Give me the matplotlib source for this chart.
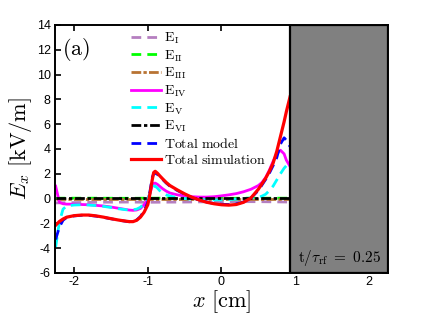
import numpy as np
import matplotlib
matplotlib.use("Agg")
import matplotlib.pyplot as plt

plt.rcParams["mathtext.fontset"] = "cm"
plt.rcParams["axes.unicode_minus"] = False
plt.rcParams["font.family"] = "Liberation Sans"

########################## Data ##########################

x_fine = [-2.25, -2.2, -2.15, -2.1, -2.0, -1.9, -1.8, -1.7, -1.6, -1.5, -1.4, -1.3,
          -1.25, -1.2, -1.15, -1.1, -1.05, -1.0, -0.97, -0.94, -0.92, -0.9, -0.87,
          -0.84, -0.8, -0.75, -0.7, -0.6, -0.5, -0.4, -0.3, -0.2, -0.1, 0.0, 0.1,
          0.2, 0.3, 0.4, 0.5, 0.55, 0.6, 0.65, 0.7, 0.75, 0.8, 0.85, 0.88, 0.93]
x_coarse = [-2.25, -1.75, -1.25, -1.0, -0.5, 0.0, 0.5, 0.93]

E_I = [-0.35, -0.3, -0.28, -0.3, -0.28, -0.25, -0.25, -0.28]
E_II = [0.03, 0.03, 0.02, 0.03, 0.03, 0.02, 0.03, 0.03]
E_III = [0.0, 0.0, 0.0, 0.0, 0.0, 0.0, 0.0, 0.0]
E_VI = [0.05, 0.05, 0.05, 0.05, 0.05, 0.05, 0.05, 0.05]

E_IV = [1.0, -0.3, -0.42, -0.45, -0.45, -0.48, -0.5, -0.55, -0.6, -0.68, -0.78, -0.88,
        -0.93, -0.95, -0.92, -0.8, -0.5, -0.05, 0.45, 1.0, 1.22, 1.25, 1.15,
        1.0, 0.8, 0.6, 0.45, 0.3, 0.2, 0.15, 0.12, 0.12, 0.15, 0.22, 0.3,
        0.4, 0.55, 0.75, 1.05, 1.3, 1.7, 2.3, 3.0, 3.6, 3.9, 3.6, 3.1, 2.6]
E_V = [-3.9, -1.9, -0.85, -0.6, -0.52, -0.5, -0.52, -0.57, -0.63, -0.72, -0.82, -0.9,
       -0.92, -0.9, -0.85, -0.7, -0.4, 0.0, 0.4, 0.85, 1.0, 1.0, 0.85,
       0.65, 0.45, 0.3, 0.2, 0.08, 0.0, -0.05, -0.08, -0.1, -0.1, -0.1, -0.08,
       -0.05, 0.0, 0.05, 0.1, 0.2, 0.35, 0.65, 1.0, 1.5, 2.0, 2.45, 2.65, 2.8]
total_model = [-3.3, -2.3, -1.75, -1.52, -1.4, -1.35, -1.35, -1.42, -1.52, -1.63, -1.74, -1.83,
               -1.87, -1.86, -1.72, -1.45, -1.0, -0.3, 0.6, 1.7, 2.0, 2.05, 1.95,
               1.8, 1.55, 1.25, 1.0, 0.65, 0.35, 0.08, -0.12, -0.28, -0.4, -0.46, -0.48,
               -0.43, -0.27, 0.05, 0.65, 1.1, 1.55, 2.05, 2.65, 3.3, 4.4, 4.9, 4.7, 4.2]
total_sim = [-2.15, -1.85, -1.65, -1.5, -1.38, -1.33, -1.33, -1.4, -1.5, -1.62, -1.73, -1.82,
             -1.86, -1.86, -1.75, -1.5, -1.1, -0.5, 0.4, 1.5, 2.1, 2.2, 2.05,
             1.85, 1.6, 1.3, 1.05, 0.7, 0.38, 0.1, -0.12, -0.3, -0.42, -0.5, -0.53,
             -0.48, -0.3, 0.05, 0.75, 1.2, 1.65, 2.2, 2.85, 3.8, 5.0, 6.2, 7.0, 8.2]

labels = [r"$\mathrm{E}_{\mathrm{I}}$", r"$\mathrm{E}_{\mathrm{II}}$",
          r"$\mathrm{E}_{\mathrm{III}}$", r"$\mathrm{E}_{\mathrm{IV}}$",
          r"$\mathrm{E}_{\mathrm{V}}$", r"$\mathrm{E}_{\mathrm{VI}}$",
          r"$\mathrm{Total\ model}$", r"$\mathrm{Total\ simulation}$"]

x_ticks = [-2, -1, 0, 1, 2]
y_ticks = [-6, -4, -2, 0, 2, 4, 6, 8, 10, 12, 14]
wall_x = 0.93

########################## Plot ##########################

fig = plt.figure(figsize=(4.36, 3.2), dpi=100)
ax = fig.add_axes([0.126, 0.147, 0.764, 0.775])

lw = 2.0
ax.plot(x_coarse, E_I, color="#b57fc0", lw=lw, dashes=(3.5, 2.2), label=labels[0])
ax.plot(x_coarse, E_II, color="#00ff00", lw=lw, dashes=(3.5, 2.2), label=labels[1])
ax.plot(x_coarse, E_III, color="#b87333", lw=lw, dashes=(3.5, 0.8, 1.2, 0.8), label=labels[2])
ax.plot(x_fine, E_IV, color="#ff00ff", lw=lw, ls="-", label=labels[3])
ax.plot(x_fine, E_V, color="#00ffff", lw=lw, dashes=(3.5, 2.2), label=labels[4])
ax.plot(x_coarse, E_VI, color="black", lw=lw, dashes=(3.5, 1.0, 1.2, 1.0), label=labels[5])
ax.plot(x_fine, total_model, color="#0000ff", lw=lw, dashes=(3.5, 2.2), label=labels[6])
ax.plot(x_fine, total_sim, color="#ff0000", lw=2.3, ls="-", label=labels[7])

ax.axvspan(wall_x, 2.26, facecolor="#808080", edgecolor="black", lw=1.6, zorder=5)

ax.set_xlim(-2.26, 2.26)
ax.set_ylim(-6, 14)
ax.set_xticks(x_ticks)
ax.set_yticks(y_ticks)
ax.tick_params(direction="in", top=True, right=True, length=4, width=1.2,
               labelsize=9)
ax.tick_params(axis="x", pad=2.5)
ax.tick_params(axis="y", pad=3)
for s in ax.spines.values():
    s.set_linewidth(1.4)

ax.set_xlabel(r"$x\ [\mathrm{cm}]$", fontsize=16, labelpad=0)
ax.set_ylabel(r"$E_x\ [\mathrm{kV/m}]$", fontsize=16, labelpad=2)

ax.text(0.02, 0.9, r"$(\mathrm{a})$", transform=ax.transAxes, fontsize=16,
        ha="left", va="center")
ax.text(1.6, -4.8, r"$\mathrm{t}/\tau_{\mathrm{rf}}\ =\ 0.25$", fontsize=11,
        ha="center", va="center", zorder=6)

leg = ax.legend(loc="upper left", bbox_to_anchor=(0.228, 0.978), frameon=False,
                fontsize=10, handlelength=2.2, handletextpad=0.15,
                labelspacing=0.17, borderpad=0, borderaxespad=0)

fig.savefig("out.png", dpi=100)
